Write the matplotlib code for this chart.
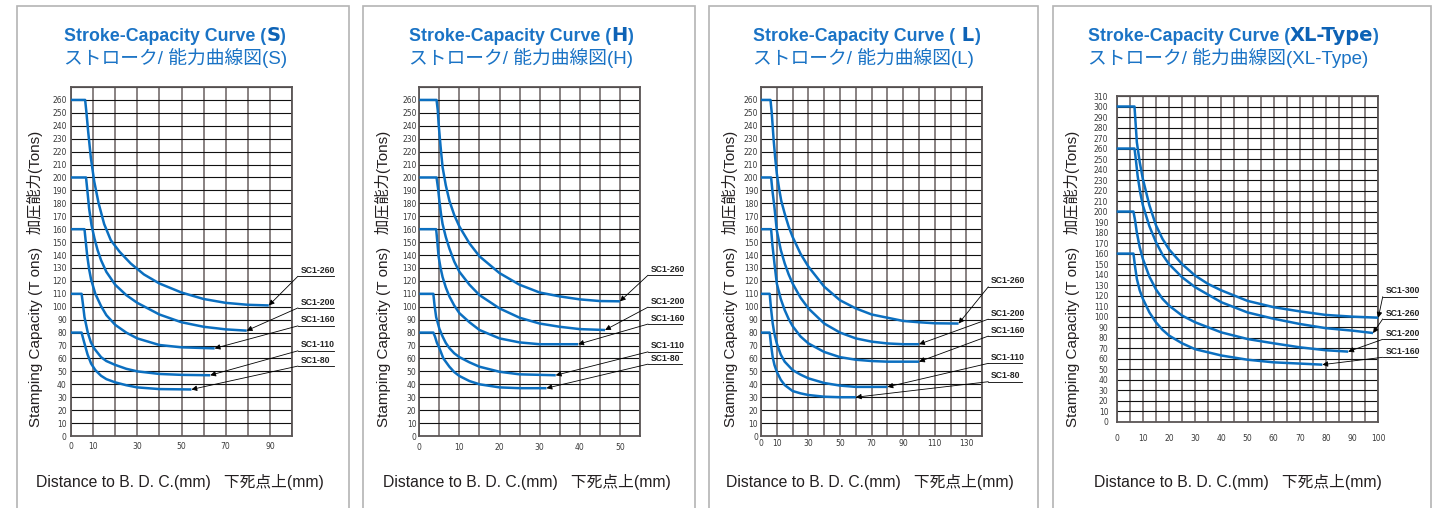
import numpy as np
import matplotlib
matplotlib.use("Agg")
import matplotlib.pyplot as plt
from matplotlib.patches import Rectangle

# ---- data (x in mm, y in tons) ----
series_names_small = ["SC1-260", "SC1-200", "SC1-160", "SC1-110", "SC1-80"]
series_names_xl = ["SC1-300", "SC1-260", "SC1-200", "SC1-160"]

# S type
s_x_260 = [0, 6.4, 7.0, 7.8, 9.0, 10.5, 12.5, 15, 18, 22, 27, 33, 40, 50, 60, 70, 80, 89.5]
s_y_260 = [260, 260, 250, 235, 215, 197, 180, 164, 151.5, 142.5, 133.5, 125, 118, 111, 106, 103, 101.5, 101]
s_x_200 = [0, 6.8, 7.4, 8.2, 9.3, 10.6, 12, 13.6, 16, 20, 25, 30, 40, 50, 60, 70, 79.5]
s_y_200 = [200, 200, 190, 176, 163, 153, 144, 136, 127, 117, 109, 103, 94, 88, 84.5, 82.5, 81.5]
s_x_160 = [0, 6.1, 6.7, 7.3, 8.2, 9.1, 11, 13.6, 16, 20, 25, 30, 40, 50, 65]
s_y_160 = [160, 160, 150, 140, 129, 121, 110, 100.5, 93.5, 86, 80, 75.5, 70.4, 68.6, 67.8]
s_x_110 = [0, 4.8, 5.4, 6.1, 7.6, 9, 10.6, 13.6, 16, 20, 25, 30, 40, 50, 63]
s_y_110 = [110, 110, 102, 92, 80, 72.5, 67.5, 61, 58, 55, 52, 50, 48, 47.3, 47]
s_x_80 = [0, 4.8, 5.4, 6.1, 7.5, 9.1, 11, 13.6, 16, 20, 25, 30, 40, 54.5]
s_y_80 = [80, 80, 76, 71.6, 63, 56, 51, 46.6, 44, 41.5, 39.3, 37.6, 36.3, 36]

# H type
h_x_260 = [0, 4.3, 4.6, 4.8, 5.3, 5.8, 6.6, 7.5, 8.7, 10, 12.5, 15, 20, 25, 30, 35, 40, 45, 50]
h_y_260 = [260, 260, 252, 242, 224, 208, 194, 182, 171, 162, 149, 139, 126, 117, 111, 108, 105.7, 104.4, 104.2]
h_x_200 = [0, 4.3, 4.7, 5.0, 5.4, 5.8, 6.6, 7.5, 8.7, 10, 12.5, 15, 20, 25, 30, 35, 40, 46.3]
h_y_200 = [200, 200, 191, 182, 172, 164, 154, 145, 135, 127, 117, 109, 98.7, 91.5, 87, 84.5, 82.7, 82]
h_x_160 = [0, 4.2, 4.5, 4.8, 5.3, 5.8, 6.6, 7.5, 8.7, 10, 12.5, 15, 20, 25, 30, 39.6]
h_y_160 = [160, 160, 150, 139, 130, 123, 115, 108, 101, 95, 88, 82, 75.5, 72.4, 71, 71]
h_x_110 = [0, 3.5, 3.8, 4.2, 5, 5.8, 6.6, 7.5, 8.7, 10, 12.5, 15, 20, 25, 34]
h_y_110 = [110, 110, 101, 92, 83, 77, 72, 68, 64, 61, 57, 53.6, 49.7, 47.7, 47]
h_x_80 = [0, 3.5, 3.9, 4.4, 5, 6, 7.5, 8.7, 10, 12.5, 15, 20, 25, 31.7]
h_y_80 = [80, 80, 77, 72, 68, 60, 53.6, 49.5, 46.4, 42.5, 40, 37.6, 37, 37]

# L type
l_x_260 = [0, 6, 6.8, 8, 9, 10, 11.5, 12.8, 15, 17.5, 20, 25, 30, 40, 50, 60, 70, 80, 90, 100, 110, 125]
l_y_260 = [260, 260, 250, 229, 215, 203, 191, 182, 172, 162, 154, 141, 131, 115.5, 105, 98.7, 94, 91.5, 89, 88, 87.2, 87]
l_x_200 = [0, 6.4, 7.2, 8.5, 10, 12.5, 15, 17.5, 20, 25, 30, 40, 50, 60, 70, 80, 90, 100]
l_y_200 = [200, 200, 190, 177, 159, 144, 133.5, 125, 118, 107, 98.7, 87, 80, 75.5, 73, 71.6, 71, 71]
l_x_160 = [0, 6.4, 7.2, 8.5, 10, 12.5, 15, 17.5, 20, 25, 30, 40, 50, 60, 70, 80, 100]
l_y_160 = [160, 160, 148, 133.5, 118, 106, 97.4, 90.5, 85, 77, 71.6, 65, 61, 59, 58, 57.5, 57.5]
l_x_110 = [0, 5.5, 6.3, 7.4, 8.5, 10, 12.5, 15, 20, 25, 30, 40, 50, 60, 80]
l_y_110 = [110, 110, 99, 87, 79, 71.6, 63, 57.5, 51, 47.5, 44.6, 41, 39, 38, 38]
l_x_80 = [0, 5.5, 6.3, 7.4, 8.5, 10, 12.5, 15, 20, 25, 30, 40, 50, 60]
l_y_80 = [80, 80, 71, 61, 55, 49.7, 43.5, 39.4, 34.8, 33, 31.7, 30.4, 30, 30]

# XL type
xl_x_300 = [0, 6.8, 7.2, 7.7, 8.8, 10, 12.5, 15, 17.5, 20, 25, 30, 35, 40, 50, 60, 70, 80, 90, 100]
xl_y_300 = [300, 300, 285, 266, 247, 231, 206, 187, 174, 164, 150, 139, 131, 125, 115, 109, 105, 101.6, 100, 99]
xl_x_260 = [0, 6.8, 7.3, 8, 9, 10, 12.5, 15, 17.5, 20, 25, 30, 40, 50, 60, 70, 80, 90, 98]
xl_y_260 = [260, 260, 250, 234, 218, 206, 186, 171, 159, 150, 137.5, 128, 113.7, 104, 98, 93, 89, 86.7, 84.4]
xl_x_200 = [0, 6.4, 7, 7.7, 8.8, 10, 12.5, 15, 17.5, 20, 25, 30, 40, 50, 60, 70, 80, 88.5]
xl_y_200 = [200, 200, 192, 180, 166, 155, 138, 126, 117, 110.5, 101, 94.6, 85, 78.7, 74.6, 70.8, 68, 66.7]
xl_x_160 = [0, 6.4, 7, 7.7, 8.8, 10, 12.5, 15, 17.5, 20, 25, 30, 40, 50, 60, 78.6]
xl_y_160 = [160, 160, 148, 136, 125, 117, 104, 94.6, 87.5, 82, 74.6, 69, 63, 59, 56.5, 54.3]

# tick labels shown on the x axes
s_xticklabels = [0, 10, 30, 50, 70, 90]
h_xticklabels = [0, 10, 20, 30, 40, 50]
l_xticklabels = [0, 10, 30, 50, 70, 90, 110, 130]
xl_xticklabels = [0, 10, 20, 30, 40, 50, 60, 70, 80, 90, 100]

# ---- layout (pixels) ----
W, H = 1446, 508
BLUE = "#0b6fc0"
TITLE_BLUE = "#1a73c5"
TEXT = "#231f20"
LATIN_CJK = ["Liberation Sans", "Noto Sans CJK JP"]

panels = [
    dict(tag="S", box=(17, 349), ax=(71, 87, 292, 436), title_x=64,
         xmax=100, xstep=10, ymax=270, ylabmax=260, xlabels=s_xticklabels,
         names=series_names_small,
         curves=[(s_x_260, s_y_260), (s_x_200, s_y_200), (s_x_160, s_y_160),
                 (s_x_110, s_y_110), (s_x_80, s_y_80)],
         lab_x=(102.7, 119), lab_y=[123.6, 99.1, 85.2, 65.9, 54.1],
         ypad=3, xpad=4, ylab_x=35, xlab_x=180),
    dict(tag="H", box=(363, 695), ax=(419.3, 87, 640, 436), title_x=409.3,
         xmax=55, xstep=5, ymax=270, ylabmax=260, xlabels=h_xticklabels,
         names=series_names_small,
         curves=[(h_x_260, h_y_260), (h_x_200, h_y_200), (h_x_160, h_y_160),
                 (h_x_110, h_y_110), (h_x_80, h_y_80)],
         lab_x=(57, 65.5), lab_y=[124.4, 99.7, 86.6, 65.1, 55.6],
         ypad=2, xpad=5, ylab_x=383, xlab_x=527),
    dict(tag=" L", box=(709, 1037.7), ax=(761, 87, 982.3, 436), title_x=753.3,
         xmax=140, xstep=10, ymax=270, ylabmax=260, xlabels=l_xticklabels,
         names=series_names_small,
         curves=[(l_x_260, l_y_260), (l_x_200, l_y_200), (l_x_160, l_y_160),
                 (l_x_110, l_y_110), (l_x_80, l_y_80)],
         lab_x=(143.8, 165.3), lab_y=[115.4, 90.4, 77.3, 56.2, 42.0],
         ypad=2, xpad=2.5, ylab_x=730, xlab_x=870),
    dict(tag="XL-Type", box=(1052.7, 1430.7), ax=(1116.7, 96, 1378.3, 421.7), title_x=1087.7,
         xmax=100, xstep=5, ymax=310, ylabmax=310, xlabels=xl_xticklabels,
         names=series_names_xl,
         curves=[(xl_x_300, xl_y_300), (xl_x_260, xl_y_260),
                 (xl_x_200, xl_y_200), (xl_x_160, xl_y_160)],
         lab_x=(101.7, 114.7), lab_y=[119.0, 97.8, 78.4, 61.3],
         ypad=6, xpad=8.5, ylab_x=1072, xlab_x=1238),
]

fig = plt.figure(figsize=(W / 100, H / 100), dpi=100)
fig.patch.set_facecolor("white")


def fx(px):
    return px / W


def fy(py):
    return 1 - py / H


title_parts = []

for p in panels:
    # light grey frame around each chart (open at the bottom)
    x0, x1 = p["box"]
    fig.add_artist(Rectangle((fx(x0), -0.2), fx(x1 - x0), fy(6) + 0.2,
                             transform=fig.transFigure, fill=False,
                             edgecolor="#b4b4b4", lw=1.2, clip_on=False))

    l, t, r, b = p["ax"]
    ax = fig.add_axes([fx(l), fy(b), fx(r - l), (b - t) / H])
    ax.set_xlim(0, p["xmax"])
    ax.set_ylim(0, p["ymax"])

    xt = np.arange(0, p["xmax"] + 0.01, p["xstep"])
    ax.set_xticks(xt)
    ax.set_xticklabels([str(int(v)) if int(v) in p["xlabels"] else "" for v in xt])
    yt = np.arange(0, p["ymax"] + 0.01, 10)
    ax.set_yticks(yt)
    ax.set_yticklabels([str(int(v)) if v <= p["ylabmax"] else "" for v in yt])
    ax.tick_params(length=0, labelsize=5.5, labelcolor="#3a3a3a")
    ax.tick_params(axis="y", pad=p["ypad"])
    ax.tick_params(axis="x", pad=p["xpad"])

    ax.xaxis.grid(True, color="#7f7777", lw=1.3)
    ax.yaxis.grid(True, color="#111111", lw=0.8)
    for sp in ax.spines.values():
        sp.set_color("#5a5555")
        sp.set_linewidth(1.3)

    for (cx, cy), name, ly in zip(p["curves"], p["names"], p["lab_y"]):
        ax.plot(cx, cy, color=BLUE, lw=1.8, solid_joinstyle="round",
                solid_capstyle="butt", zorder=3, clip_on=False)
        lx0, lx1 = p["lab_x"]
        ax.annotate("", xy=(cx[-1], cy[-1]), xytext=(lx0, ly),
                    arrowprops=dict(arrowstyle="-|>", color="black", lw=0.6,
                                    mutation_scale=8, shrinkA=0, shrinkB=0),
                    annotation_clip=False, zorder=4)
        ax.plot([lx0, lx1], [ly, ly], color="black", lw=0.6, clip_on=False)
        ax.text(lx0 + (lx1 - lx0) * 0.08, ly + p["ymax"] * 0.004, name,
                fontsize=6.2, fontweight="bold", color="#222222",
                family="Liberation Sans", ha="left", va="bottom", clip_on=False)

    # titles
    t1 = fig.text(fx(p["title_x"]), fy(41), "Stroke-Capacity Curve (",
                  fontsize=12.8, fontweight="bold", color=TITLE_BLUE,
                  family="Liberation Sans", va="baseline", ha="left")
    title_parts.append((t1, p["tag"]))
    fig.text(fx(p["title_x"]), fy(58), "ストローク/ 能力曲線図(" + p["tag"].strip() + ")",
             fontsize=13.5, color=TITLE_BLUE, family=LATIN_CJK,
             va="center", ha="left")

    # axis labels
    fig.text(fx(p["ylab_x"]), fy(279), "Stamping Capacity (T ons)   加圧能力(Tons)",
             fontsize=11, color=TEXT, family=LATIN_CJK, rotation=90,
             va="center", ha="center")
    fig.text(fx(p["xlab_x"]), fy(482), "Distance to B. D. C.(mm)   下死点上(mm)",
             fontsize=11.3, color=TEXT, family=LATIN_CJK, va="center", ha="center")

# heavy type letter in the first title line, placed after the regular part
fig.canvas.draw()
renderer = fig.canvas.get_renderer()
inv = fig.transFigure.inverted()
for t1, tag in title_parts:
    bb = t1.get_window_extent(renderer)
    xend = inv.transform((bb.x1, bb.y0))[0]
    y0 = t1.get_position()[1]
    t2 = fig.text(xend, y0, tag, fontsize=14, fontweight="heavy",
                  color="#0d62b5", family="DejaVu Sans", va="baseline", ha="left")
    bb2 = t2.get_window_extent(renderer)
    xend2 = inv.transform((bb2.x1, bb2.y0))[0]
    fig.text(xend2, y0, ")", fontsize=12.8, fontweight="bold", color=TITLE_BLUE,
             family="Liberation Sans", va="baseline", ha="left")

fig.savefig("out.png", dpi=100)
